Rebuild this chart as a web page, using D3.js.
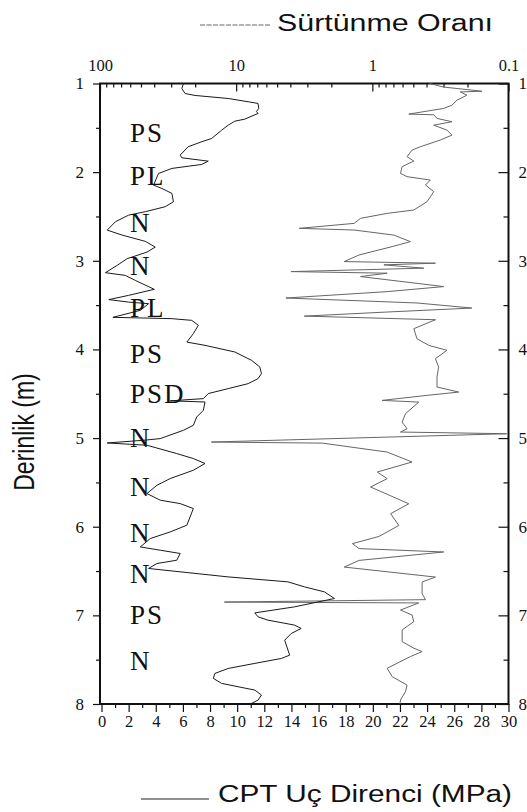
<!DOCTYPE html>
<html>
<head>
<meta charset="utf-8">
<script src="https://cdn.jsdelivr.net/npm/d3@7"></script>
<style>
  body { margin: 0; background: #fff; }
  svg { display: block; }
</style>
</head>
<body>
<div id="chart"></div>
<script>
// CPT tip resistance profile: [depth m, qc MPa]
var cptProfile = [
  [1.000, 6.04], [1.056, 5.92], [1.113, 6.16], [1.135, 6.90], [1.169, 9.34], [1.206, 10.81],
  [1.225, 11.54], [1.282, 11.59], [1.316, 11.42], [1.338, 11.54], [1.402, 10.56], [1.425, 9.83],
  [1.470, 9.34], [1.526, 8.86], [1.620, 8.12], [1.657, 7.39], [1.714, 6.38], [1.808, 5.80],
  [1.838, 5.92], [1.876, 7.87], [1.913, 7.39], [1.958, 5.19], [2.015, 4.20], [2.147, 3.84],
  [2.184, 4.45], [2.240, 5.19], [2.334, 5.30], [2.390, 4.70], [2.446, 3.23], [2.485, 2.00],
  [2.559, 1.03], [2.654, 0.42], [2.710, 1.52], [2.781, 3.23], [2.846, 3.96], [2.902, 3.35],
  [2.976, 1.89], [3.052, 1.15], [3.134, 0.29], [3.165, 1.76], [3.221, 2.49], [3.322, 3.89],
  [3.390, 2.00], [3.438, 0.54], [3.466, 2.00], [3.484, 3.47], [3.559, 2.86], [3.638, 0.84],
  [3.653, 5.19], [3.672, 6.65], [3.728, 7.14], [3.822, 6.77], [3.917, 6.29], [3.954, 7.63],
  [4.029, 9.83], [4.123, 11.06], [4.198, 11.67], [4.273, 11.79], [4.329, 11.54], [4.386, 10.81],
  [4.442, 9.34], [4.498, 7.87], [4.555, 7.51], [4.580, 5.06], [4.593, 7.63], [4.687, 7.51],
  [4.762, 7.02], [4.856, 6.77], [4.912, 6.04], [5.006, 4.33], [5.025, 3.10], [5.055, 0.42],
  [5.081, 3.35], [5.175, 5.55], [5.231, 6.77], [5.287, 7.63], [5.363, 6.77], [5.457, 5.06],
  [5.532, 4.09], [5.626, 3.35], [5.701, 4.33], [5.739, 5.80], [5.795, 6.77], [5.890, 6.53],
  [5.983, 6.29], [6.059, 5.06], [6.133, 3.60], [6.228, 2.86], [6.265, 4.33], [6.302, 5.80],
  [6.378, 5.55], [6.415, 4.09], [6.471, 3.47], [6.566, 9.32], [6.622, 13.74], [6.679, 14.97],
  [6.735, 16.43], [6.810, 17.17], [6.904, 14.23], [6.972, 11.30], [7.017, 11.54], [7.054, 12.27],
  [7.110, 14.23], [7.148, 14.72], [7.204, 13.99], [7.280, 13.50], [7.449, 13.87], [7.486, 13.26],
  [7.542, 11.30], [7.599, 9.34], [7.655, 8.36], [7.711, 8.24], [7.768, 8.86], [7.843, 11.30],
  [7.899, 11.79], [7.956, 11.54], [7.993, 11.06]
];

// friction ratio profile: [depth m, Rf %]
var frictionProfile = [
  [1.000, 0.38], [1.040, 0.30], [1.087, 0.157], [1.095, 0.226], [1.132, 0.202], [1.188, 0.239],
  [1.244, 0.260], [1.281, 0.299], [1.345, 0.540], [1.353, 0.354], [1.394, 0.335], [1.431, 0.260],
  [1.470, 0.354], [1.526, 0.283], [1.582, 0.260], [1.638, 0.317], [1.713, 0.443], [1.751, 0.511],
  [1.825, 0.556], [1.875, 0.496], [1.938, 0.604], [2.014, 0.621], [2.051, 0.556], [2.089, 0.375],
  [2.145, 0.407], [2.220, 0.354], [2.333, 0.396], [2.427, 0.496], [2.465, 0.778], [2.521, 1.22],
  [2.578, 1.36], [2.634, 3.44], [2.653, 1.36], [2.710, 0.695], [2.784, 0.525], [2.840, 0.715],
  [2.934, 1.25], [3.009, 1.61], [3.027, 0.344], [3.046, 0.822], [3.083, 0.419], [3.122, 3.96],
  [3.140, 0.778], [3.178, 1.22], [3.291, 0.299], [3.348, 0.778], [3.420, 4.31], [3.476, 0.470],
  [3.533, 0.186], [3.578, 0.778], [3.624, 3.16], [3.665, 0.344], [3.766, 0.496], [3.879, 0.470],
  [3.954, 0.385], [4.010, 0.283], [4.104, 0.344], [4.199, 0.326], [4.311, 0.335], [4.424, 0.335],
  [4.481, 0.232], [4.518, 0.396], [4.575, 0.847], [4.594, 0.456], [4.725, 0.571], [4.820, 0.604],
  [4.895, 0.556], [4.932, 0.621], [4.951, 0.103], [5.045, 15.2], [5.057, 2.33], [5.158, 0.778],
  [5.270, 0.511], [5.383, 0.92], [5.458, 0.778], [5.552, 1.03], [5.741, 0.540], [5.853, 0.734],
  [5.986, 0.639], [6.110, 0.895], [6.191, 1.40], [6.247, 1.25], [6.285, 0.299], [6.380, 1.25],
  [6.455, 1.61], [6.568, 0.344], [6.624, 0.431], [6.755, 0.431], [6.823, 0.407], [6.850, 12.2],
  [6.860, 0.456], [6.940, 0.621], [6.996, 0.511], [7.071, 0.496], [7.164, 0.604], [7.296, 0.604],
  [7.371, 0.496], [7.409, 0.431], [7.465, 0.525], [7.597, 0.778], [7.692, 0.715], [7.786, 0.556],
  [7.861, 0.571], [7.955, 0.621], [8.000, 0.627]
];

// soil type labels and the depth they sit at
var soilLabels = ["PS", "PL", "N", "N", "PL", "PS", "PSD", "N", "N", "N", "N", "PS", "N"];
var soilDepths = [1.55, 2.04, 2.57, 3.05, 3.52, 4.04, 4.50, 4.99, 5.54, 6.06, 6.53, 6.99, 7.51];

// tick values
var depthTicks = [1, 2, 3, 4, 5, 6, 7, 8];
var depthMinor = [1.5, 2.5, 3.5, 4.5, 5.5, 6.5, 7.5];
var cptTicks = [0, 2, 4, 6, 8, 10, 12, 14, 16, 18, 20, 22, 24, 26, 28, 30];
var cptMinor = [1, 3, 5, 7, 9, 11, 13, 15, 17, 19, 21, 23, 25, 27, 29];
var frictionTicks = [100, 10, 1, 0.1];
var frictionTickLabels = ["100", "10", "1", "0.1"];

var width = 527, height = 812;
var plot = { left: 100, right: 508.5, top: 83.5, bottom: 704 };
var serif = "'Liberation Serif', 'DejaVu Serif', serif";
var sans = "'Liberation Sans', Arial, sans-serif";

var svg = d3.select("#chart").append("svg")
  .attr("width", width)
  .attr("height", height);

// scales
var y = d3.scaleLinear().domain([1, 8]).range([plot.top, plot.bottom]);
var xCpt = d3.scaleLinear().domain([0, 30]).range([101.5, plot.right]);
var xFr = d3.scaleLog().domain([100, 0.1]).range([plot.left, plot.right]);

// log minor ticks 2..9 in each decade
var frMinor = [];
[10, 1, 0.1].forEach(function (dec) {
  for (var k = 2; k <= 9; k++) frMinor.push(+(k * dec).toPrecision(2));
});

function styleAxis(g, size) {
  g.select(".domain").remove();
  g.attr("font-family", serif).attr("font-size", size);
  g.selectAll("line").attr("stroke", "#111").attr("stroke-width", 1.2);
  g.selectAll("text")
    .attr("fill", "#111")
    .style("font-family", serif)
    .style("font-size", size + "px");
}

// left depth axis
svg.append("g")
  .attr("transform", "translate(" + plot.left + ",0)")
  .call(d3.axisLeft(y).tickValues(depthTicks).tickSize(7).tickPadding(9).tickFormat(d3.format("d")))
  .call(styleAxis, 17);
svg.append("g")
  .attr("transform", "translate(" + plot.left + ",0)")
  .call(d3.axisLeft(y).tickValues(depthMinor).tickSize(4).tickFormat(""))
  .call(styleAxis, 17);

// right depth axis, ticks inside
svg.append("g")
  .attr("transform", "translate(" + plot.right + ",0)")
  .call(d3.axisRight(y).tickValues(depthTicks).tickSize(-10).tickPadding(10).tickFormat(d3.format("d")))
  .call(styleAxis, 17);
svg.append("g")
  .attr("transform", "translate(" + plot.right + ",0)")
  .call(d3.axisRight(y).tickValues(depthMinor).tickSize(-5).tickFormat(""))
  .call(styleAxis, 17);

// bottom CPT axis
svg.append("g")
  .attr("transform", "translate(0," + plot.bottom + ")")
  .call(d3.axisBottom(xCpt).tickValues(cptTicks).tickSize(8).tickPadding(3.5).tickFormat(d3.format("d")))
  .call(styleAxis, 16.5);
svg.append("g")
  .attr("transform", "translate(0," + plot.bottom + ")")
  .call(d3.axisBottom(xCpt).tickValues(cptMinor).tickSize(4).tickFormat(""))
  .call(styleAxis, 16.5);

// top friction ratio axis (log, reversed), ticks inside
svg.append("g")
  .attr("transform", "translate(0," + plot.top + ")")
  .call(d3.axisTop(xFr).tickValues(frictionTicks).tickSize(-8).tickPadding(12.5)
    .tickFormat(function (d, i) { return frictionTickLabels[i]; }))
  .call(styleAxis, 16.5);
svg.append("g")
  .attr("transform", "translate(0," + plot.top + ")")
  .call(d3.axisTop(xFr).tickValues(frMinor).tickSize(-4).tickFormat(""))
  .call(styleAxis, 16.5);

// plot frame
svg.append("rect")
  .attr("x", plot.left)
  .attr("y", plot.top)
  .attr("width", plot.right - plot.left)
  .attr("height", plot.bottom - plot.top)
  .attr("fill", "none")
  .attr("stroke", "#111")
  .attr("stroke-width", 2);

// curves
var cptLine = d3.line()
  .x(function (d) { return xCpt(d[1]); })
  .y(function (d) { return y(d[0]); });

var frLine = d3.line()
  .x(function (d) { return xFr(d[1]); })
  .y(function (d) { return y(d[0]); });

svg.append("path")
  .datum(frictionProfile)
  .attr("d", frLine)
  .attr("fill", "none")
  .attr("stroke", "#666")
  .attr("stroke-width", 1);

svg.append("path")
  .datum(cptProfile)
  .attr("d", cptLine)
  .attr("fill", "none")
  .attr("stroke", "#1a1a1a")
  .attr("stroke-width", 1);

// soil type labels
svg.selectAll(".soil")
  .data(soilLabels)
  .enter()
  .append("text")
  .attr("class", "soil")
  .attr("x", 130)
  .attr("y", function (d, i) { return y(soilDepths[i]); })
  .attr("dy", "0.36em")
  .attr("fill", "#111")
  .style("font-family", serif)
  .style("font-size", "27px")
  .style("letter-spacing", "2px")
  .text(function (d) { return d; });

// legends / titles
svg.append("line")
  .attr("x1", 200).attr("x2", 270)
  .attr("y1", 25).attr("y2", 25)
  .attr("stroke", "#666")
  .attr("stroke-width", 1.2)
  .attr("stroke-dasharray", "5,1.5");

svg.append("text")
  .attr("x", 277)
  .attr("y", 30.5)
  .attr("textLength", 216)
  .attr("lengthAdjust", "spacingAndGlyphs")
  .attr("fill", "#111")
  .style("font-family", sans)
  .style("font-size", "23.5px")
  .text("Sürtünme Oranı");

svg.append("line")
  .attr("x1", 141).attr("x2", 209)
  .attr("y1", 799).attr("y2", 799)
  .attr("stroke", "#222")
  .attr("stroke-width", 1.2);

svg.append("text")
  .attr("x", 218)
  .attr("y", 801.5)
  .attr("textLength", 294)
  .attr("lengthAdjust", "spacingAndGlyphs")
  .attr("fill", "#111")
  .style("font-family", sans)
  .style("font-size", "23.5px")
  .text("CPT Uç Direnci (MPa)");

svg.append("text")
  .attr("transform", "translate(34,432) scale(1.27,1) rotate(-90)")
  .attr("text-anchor", "middle")
  .attr("fill", "#111")
  .style("font-family", sans)
  .style("font-size", "23px")
  .text("Derinlik (m)");
</script>
</body>
</html>
